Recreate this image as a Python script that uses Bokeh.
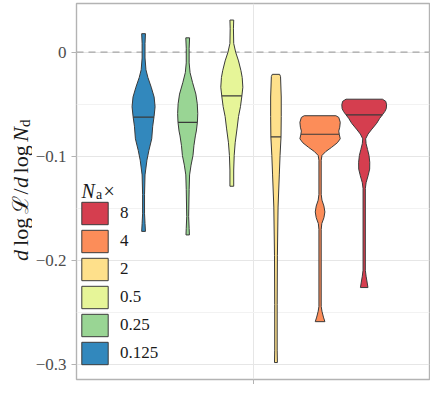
import numpy as np
from bokeh.plotting import figure
from bokeh.layouts import row
from bokeh.models import (Range1d, FixedTicker, CustomJSTickFormatter, Span, Label,
                          Legend, LegendItem)
from bokeh.embed import file_html
from bokeh.resources import INLINE

# ---------------- data ----------------
groups = ["0.125", "0.25", "0.5", "2", "4", "8"]
colors = ["#3288BD", "#99D594", "#E6F598", "#FEE08B", "#FC8D59", "#D53E4F"]
medians = [-0.0624, -0.0674, -0.0421, -0.0815, -0.0789, -0.0602]

# violin outlines: y values and half-widths (in category-slot units)
y_0125 = [0.0178, 0.0084, -0.0056, -0.0169, -0.0243, -0.0337, -0.0431, -0.0524, -0.0618,
          -0.0712, -0.0833, -0.0946, -0.1039, -0.118, -0.1367, -0.1554, -0.1648, -0.1723]
w_0125 = [0.043, 0.033, 0.033, 0.054, 0.098, 0.174, 0.239, 0.261, 0.238,
          0.207, 0.185, 0.12, 0.076, 0.033, 0.022, 0.022, 0.033, 0.043]

y_025 = [0.0138, 0.0037, -0.0103, -0.0197, -0.029, -0.0403, -0.0496, -0.059, -0.0674, -0.0758,
         -0.0805, -0.0899, -0.0993, -0.1086, -0.118, -0.132, -0.158, -0.1695, -0.1757]
w_025 = [0.043, 0.033, 0.033, 0.054, 0.109, 0.185, 0.217, 0.228, 0.22, 0.196,
         0.174, 0.141, 0.12, 0.076, 0.043, 0.033, 0.022, 0.033, 0.039]

y_05 = [0.0309, 0.0225, 0.0084, 0.0, -0.0084, -0.0178, -0.0243, -0.0337, -0.0421, -0.0524,
        -0.0618, -0.073, -0.0871, -0.0993, -0.1133, -0.1289]
w_05 = [0.043, 0.037, 0.043, 0.087, 0.152, 0.207, 0.235, 0.25, 0.228, 0.196,
        0.152, 0.12, 0.076, 0.054, 0.043, 0.043]

y_2 = [-0.0213, -0.0234, -0.0431, -0.0618, -0.0815, -0.0993, -0.118, -0.1489, -0.1957,
       -0.2425, -0.2865, -0.2984]
w_2 = [0.083, 0.104, 0.12, 0.12, 0.115, 0.093, 0.076, 0.048, 0.033, 0.028, 0.028, 0.033]

y_4 = [-0.0611, -0.0627, -0.0674, -0.0721, -0.0758, -0.0789, -0.0833, -0.0871, -0.0915,
       -0.0955, -0.0993, -0.1039, -0.1367, -0.1423, -0.1479, -0.1536, -0.1592, -0.1648,
       -0.1704, -0.2444, -0.2491, -0.2547, -0.2591]
w_4 = [0.359, 0.424, 0.457, 0.446, 0.424, 0.435, 0.457, 0.391, 0.261,
       0.13, 0.043, 0.026, 0.026, 0.043, 0.087, 0.109, 0.087, 0.039,
       0.026, 0.026, 0.043, 0.076, 0.109]

y_8 = [-0.0452, -0.0473, -0.0506, -0.0543, -0.0571, -0.0602, -0.0637, -0.0684, -0.074,
       -0.0787, -0.0833, -0.088, -0.0936, -0.0993, -0.1058, -0.1124, -0.1189, -0.1255,
       -0.1311, -0.2097, -0.2154, -0.221, -0.2263]
w_8 = [0.413, 0.489, 0.507, 0.5, 0.467, 0.413, 0.35, 0.283, 0.174,
       0.087, 0.033, 0.043, 0.076, 0.109, 0.126, 0.124, 0.087, 0.043,
       0.026, 0.026, 0.043, 0.065, 0.085]

profiles_y = [y_0125, y_025, y_05, y_2, y_4, y_8]
profiles_w = [w_0125, w_025, w_05, w_2, w_4, w_8]

y_ticks = [-0.3, -0.2, -0.1, 0.0]
y_minor = [-0.25, -0.15, -0.05]

# ---------------- layout / style ----------------
SERIF = "Liberation Serif"
dodge = [-2.5, -1.5, -0.5, 0.5, 1.5, 2.5]
H = 384
TW = 32          # width of the strip holding the y-axis title

p = figure(width=430 - TW, height=H, output_backend="svg", toolbar_location=None,
           x_range=Range1d(-4.02, 3.98), y_range=Range1d(-0.3147, 0.0468),
           min_border_left=40, min_border_right=1, min_border_top=3, min_border_bottom=5)
p.outline_line_color = "#b3b3b3"
p.outline_line_width = 1.4
p.background_fill_color = "white"

# grids
p.ygrid.ticker = FixedTicker(ticks=y_ticks, minor_ticks=y_minor)
p.ygrid.grid_line_color = "#e6e6e6"
p.ygrid.grid_line_width = 1
p.ygrid.minor_grid_line_color = "#f2f2f2"
p.ygrid.minor_grid_line_width = 1
p.xgrid.ticker = FixedTicker(ticks=[0])
p.xgrid.grid_line_color = "#e6e6e6"

# axes
ya = p.yaxis[0]
ya.ticker = FixedTicker(ticks=y_ticks)
ya.formatter = CustomJSTickFormatter(code="""
    if (Math.abs(tick) < 1e-9) { return "0"; }
    return (tick < 0 ? "\u2212" : "") + Math.abs(tick).toFixed(1);
""")
ya.axis_line_color = None
ya.major_tick_line_color = "#b3b3b3"
ya.major_tick_out = 5
ya.major_tick_in = 0
ya.minor_tick_line_color = None
ya.minor_tick_out = 0
ya.major_label_standoff = 5
ya.major_label_text_font = SERIF
ya.major_label_text_font_size = "17px"
ya.major_label_text_color = "#4d4d4d"

xa = p.xaxis[0]
xa.ticker = FixedTicker(ticks=[0])
xa.axis_line_color = None
xa.major_tick_line_color = "#b3b3b3"
xa.major_tick_out = 5
xa.major_tick_in = 0
xa.minor_tick_line_color = None
xa.minor_tick_out = 0
xa.major_label_text_font_size = "0px"
xa.major_label_standoff = 0
xa.major_label_overrides = {0: ""}

# reference line at zero
p.add_layout(Span(location=0, dimension="width", line_color="#a6a6a6",
                  line_width=1.2, line_dash="7 5", level="underlay"))

# violins
renderers = []
for k in range(len(groups)):
    yy = np.array(profiles_y[k])
    ww = np.array(profiles_w[k])
    cx = dodge[k]
    xs = np.concatenate([cx - ww, (cx + ww)[::-1]])
    ys = np.concatenate([yy, yy[::-1]])
    r = p.patch(xs, ys, fill_color=colors[k], line_color="#3a3a3a", line_width=1)
    renderers.append(r)
    order = np.argsort(yy)
    hw = np.interp(medians[k], yy[order], ww[order])
    p.segment(x0=[cx - hw], y0=[medians[k]], x1=[cx + hw], y1=[medians[k]],
              line_color="#3a3a3a", line_width=1.2)

# legend (8 on top)
items = [LegendItem(label=groups[k], renderers=[renderers[k]])
         for k in range(len(groups) - 1, -1, -1)]
legend = Legend(items=items, location=(2, 12), orientation="vertical",
                glyph_width=33, glyph_height=28, spacing=0, padding=0, margin=0,
                label_standoff=9, label_height=28,
                label_text_font=SERIF, label_text_font_size="17px", label_text_color="#1a1a1a",
                border_line_color=None, background_fill_alpha=0)
p.add_layout(legend, "center")

def lab(fig, x, y, text, units="screen", style="normal", size="20px", font=SERIF,
        angle=0.0, color="#1a1a1a"):
    fig.add_layout(Label(x=x, y=y, x_units=units, y_units=units, text=text,
                         angle=angle, angle_units="rad",
                         text_font=font, text_font_style=style, text_font_size=size,
                         text_color=color, text_align="left", text_baseline="alphabetic"))

# legend title  N_a x
lab(p, 5, 189, "N", style="italic", size="20px")
lab(p, 19.5, 185.5, "a", size="14px")
lab(p, 27, 189, "\u00d7", size="20px")

# ---------------- y-axis title strip ----------------
t = figure(width=TW, height=H, output_backend="svg", toolbar_location=None,
           x_range=Range1d(0, TW), y_range=Range1d(0, H),
           x_axis_type=None, y_axis_type=None,
           min_border_left=0, min_border_right=0, min_border_top=0, min_border_bottom=0)
t.outline_line_color = None
t.grid.visible = False
t.background_fill_color = "white"

ang = np.pi / 2
bx = 20            # baseline x inside the strip
pieces = [
    ("d", 263.0, "italic", "22px", SERIF, 0),
    ("log", 247.6, "normal", "22px", SERIF, 0),
    ("\u2112", 215.1, "normal", "22px", "DejaVu Serif", 0),
    ("/", 195.0, "normal", "22px", SERIF, 0),
    ("d", 188.5, "italic", "22px", SERIF, 0),
    ("log", 173.6, "normal", "22px", SERIF, 0),
    ("N", 141.1, "italic", "22px", SERIF, 0),
    ("d", 126.0, "normal", "15px", SERIF, 4.5),
]
for txt, py, st, sz, fnt, dx in pieces:
    lab(t, bx + dx, H - py, txt, units="data", style=st, size=sz, font=fnt, angle=ang)

layout = row(t, p)
open("out.html", "w").write(file_html(layout, INLINE))
